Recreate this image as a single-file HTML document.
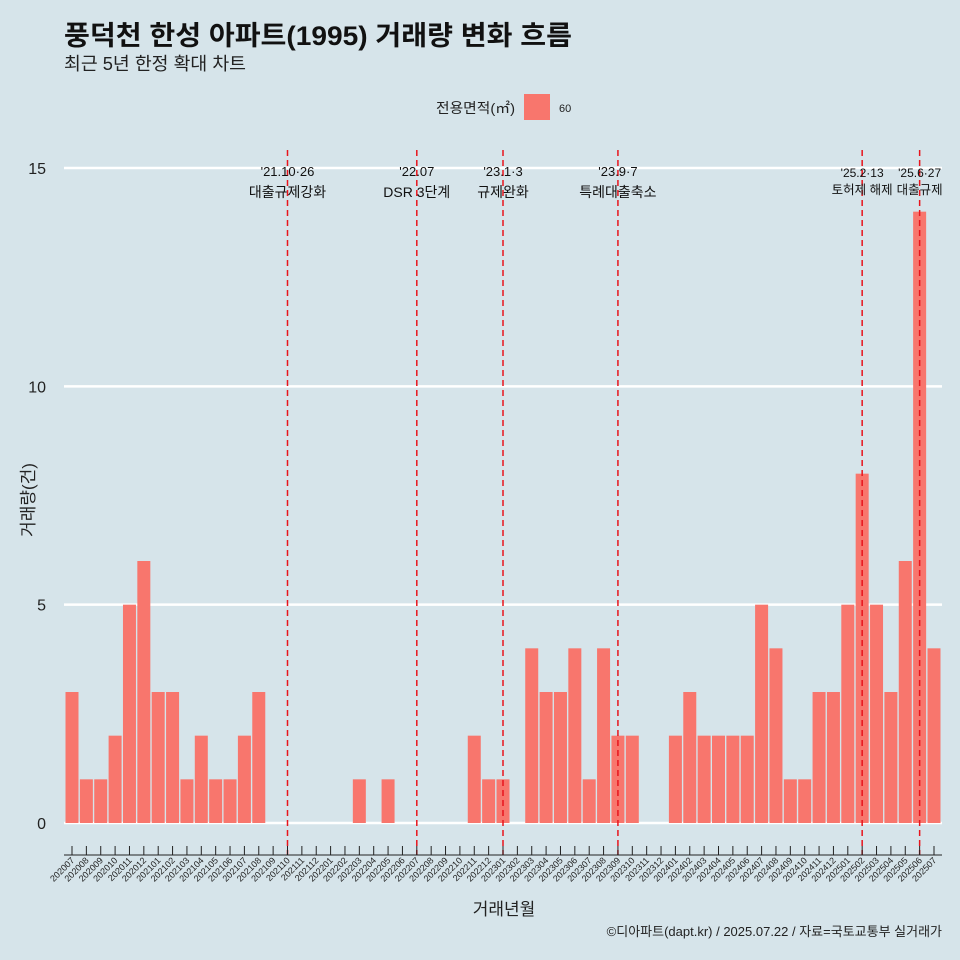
<!DOCTYPE html>
<html><head><meta charset="utf-8"><style>
body{margin:0;background:#d6e4ea;}
svg{display:block;font-family:"Liberation Sans","Noto Sans CJK KR",sans-serif;}
</style></head><body>
<svg width="960" height="960" viewBox="0 0 960 960">
<rect width="960" height="960" fill="#d6e4ea"/>
<text x="64" y="45" font-size="27" font-weight="bold" fill="#111" textLength="508" lengthAdjust="spacingAndGlyphs">풍덕천 한성 아파트(1995) 거래량 변화 흐름</text>
<text x="64" y="70" font-size="18" fill="#222" textLength="182" lengthAdjust="spacingAndGlyphs">최근 5년 한정 확대 차트</text>
<g>
<text x="436" y="113" font-size="14" fill="#222" textLength="79" lengthAdjust="spacingAndGlyphs">전용면적(㎡)</text>
<rect x="524" y="94" width="26" height="26" fill="#f8766d"/>
<text x="559" y="112" font-size="11" fill="#222">60</text>
</g>
<g id="grid"></g><g id="bars"></g><g id="events"></g><g id="xaxis"></g>
<text x="34" y="500" font-size="17" fill="#222" transform="rotate(-90 34 500)" text-anchor="middle">거래량(건)</text>
<text x="504" y="915" font-size="17" fill="#222" text-anchor="middle">거래년월</text>
<text x="942" y="936" font-size="13" fill="#222" text-anchor="end">©디아파트(dapt.kr) / 2025.07.22 / 자료=국토교통부 실거래가</text>
</svg>
<script>
const months=["202007","202008","202009","202010","202011","202012","202101","202102","202103","202104","202105","202106","202107","202108","202109","202110","202111","202112","202201","202202","202203","202204","202205","202206","202207","202208","202209","202210","202211","202212","202301","202302","202303","202304","202305","202306","202307","202308","202309","202310","202311","202312","202401","202402","202403","202404","202405","202406","202407","202408","202409","202410","202411","202412","202501","202502","202503","202504","202505","202506","202507"];
const counts=[3,1,1,2,5,6,3,3,1,2,1,1,2,3,0,0,0,0,0,0,1,0,1,0,0,0,0,0,2,1,1,0,4,3,3,4,1,4,2,2,0,0,2,3,2,2,2,2,5,4,1,1,3,3,5,8,5,3,6,14,4];
const yTicks=[0,5,10,15];
const eventMonths=["202110","202207","202301","202309","202502","202506"];
const eventDates=["'21.10·26","'22.07","'23.1·3","'23.9·7","'25.2·13","'25.6·27"];
const eventNames=["대출규제강화","DSR 3단계","규제완화","특례대출축소","토허제 해제","대출규제"];
const NS="http://www.w3.org/2000/svg";
const x0=72,step=(934-72)/60,bw=13;
const xs=i=>x0+i*step;
const ys=v=>823-v*(823-168)/15;
function mk(t,a,p){const e=document.createElementNS(NS,t);for(const k in a)e.setAttribute(k,a[k]);p.appendChild(e);return e;}
const grid=document.getElementById('grid');
yTicks.forEach(t=>{
 const l=mk('line',{x1:64,x2:942,y1:ys(t),y2:ys(t),stroke:'#fff','stroke-width':2.5},grid);
 
 
 const tx=mk('text',{x:46,y:ys(t)+6,'font-size':16,fill:'#222','text-anchor':'end'},grid);
 tx.textContent=t;
 
 
});
const bars=document.getElementById('bars');
counts.forEach((v,i)=>{
 if(v<=0)return;
 const r=mk('rect',{x:xs(i)-bw/2,y:ys(v),width:bw,height:ys(0)-ys(v),fill:'#f8766d'},bars);
 
 
});
const ev=document.getElementById('events');
eventMonths.forEach((m,k)=>{
 const x=xs(months.indexOf(m));
 const l=mk('line',{x1:x,x2:x,y1:150,y2:855,stroke:'#e8141c','stroke-width':1.5,'stroke-dasharray':'6,4'},ev);
 
 
 const small=k>=4;
 const a=mk('text',{x:x,y:small?177:176,'font-size':small?12:13,fill:'#111','text-anchor':'middle'},ev);
 a.textContent=eventDates[k];
 
 
 const b=mk('text',{x:x,y:small?194:197,'font-size':small?12.5:14,fill:'#111','text-anchor':'middle'},ev);
 b.textContent=eventNames[k];
 
 
});
const xa=document.getElementById('xaxis');
const ax=mk('line',{x1:64,x2:942,y1:855,y2:855,stroke:'#222','stroke-width':1},xa);


months.forEach((m,i)=>{
 const x=xs(i);
 const t=mk('line',{x1:x,x2:x,y1:846,y2:855,stroke:'#222','stroke-width':1},xa);
 
 
 const tx=mk('text',{x:x+3,y:861,'font-size':9,fill:'#222','text-anchor':'end',transform:`rotate(-45 ${x+3} 861)`},xa);
 tx.textContent=m;
 
 
});
</script>
</body></html>
